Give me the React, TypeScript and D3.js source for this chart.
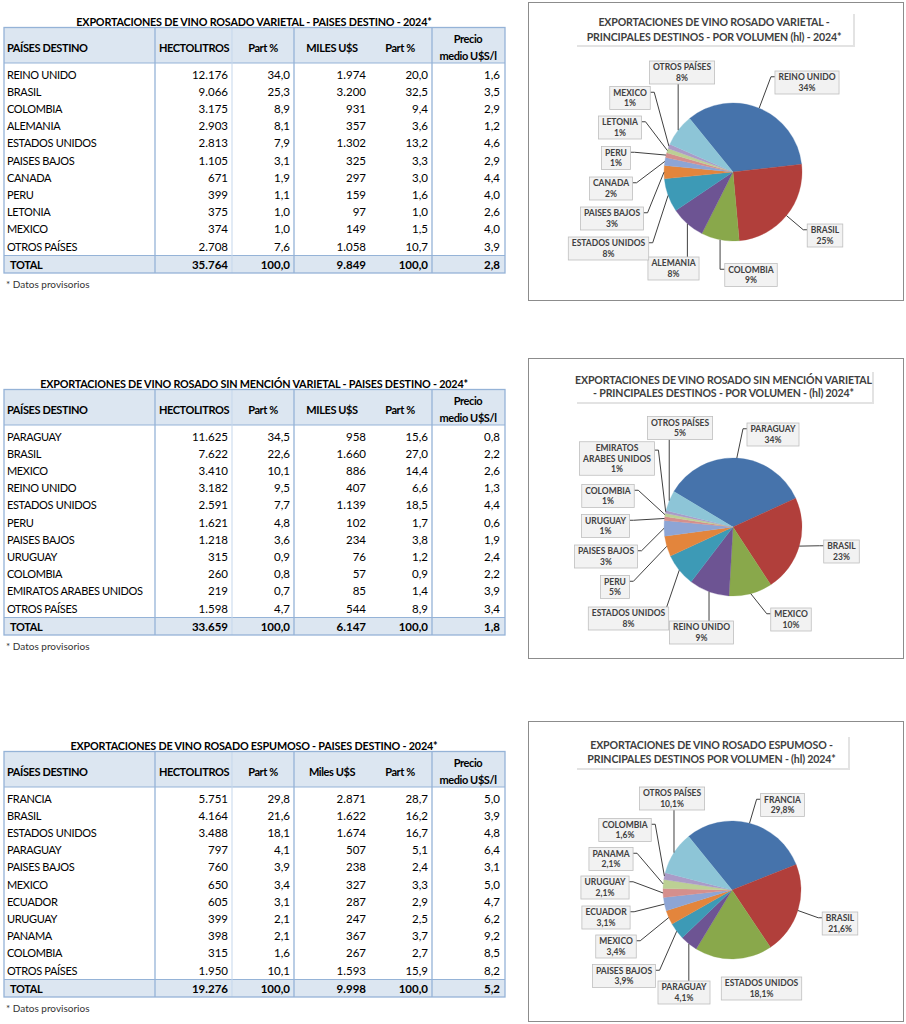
import React from "react";
import * as d3 from "d3";

// ---------- locale ----------
const locale = d3.formatLocale({ decimal: ",", thousands: ".", grouping: [3], currency: ["$", ""] });
const fInt = locale.format(",d");
const f1 = locale.format(",.1f");

// ---------- TABLE 1 ----------
const T1_TITLE = "EXPORTACIONES DE VINO ROSADO VARIETAL - PAISES DESTINO - 2024*";
const T1_HEAD_USD = "MILES U$S";
const T1_COUNTRIES = ["REINO UNIDO", "BRASIL", "COLOMBIA", "ALEMANIA", "ESTADOS UNIDOS", "PAISES BAJOS", "CANADA", "PERU", "LETONIA", "MEXICO", "OTROS PAÍSES"];
const T1_HL = [12176, 9066, 3175, 2903, 2813, 1105, 671, 399, 375, 374, 2708];
const T1_HL_PART = [34.0, 25.3, 8.9, 8.1, 7.9, 3.1, 1.9, 1.1, 1.0, 1.0, 7.6];
const T1_USD = [1974, 3200, 931, 357, 1302, 325, 297, 159, 97, 149, 1058];
const T1_USD_PART = [20.0, 32.5, 9.4, 3.6, 13.2, 3.3, 3.0, 1.6, 1.0, 1.5, 10.7];
const T1_PRICE = [1.6, 3.5, 2.9, 1.2, 4.6, 2.9, 4.4, 4.0, 2.6, 4.0, 3.9];
const T1_TOTAL = [35764, 100.0, 9849, 100.0, 2.8];

// ---------- TABLE 2 ----------
const T2_TITLE = "EXPORTACIONES DE VINO ROSADO SIN MENCIÓN VARIETAL - PAISES DESTINO - 2024*";
const T2_HEAD_USD = "MILES U$S";
const T2_COUNTRIES = ["PARAGUAY", "BRASIL", "MEXICO", "REINO UNIDO", "ESTADOS UNIDOS", "PERU", "PAISES BAJOS", "URUGUAY", "COLOMBIA", "EMIRATOS ARABES UNIDOS", "OTROS PAÍSES"];
const T2_HL = [11625, 7622, 3410, 3182, 2591, 1621, 1218, 315, 260, 219, 1598];
const T2_HL_PART = [34.5, 22.6, 10.1, 9.5, 7.7, 4.8, 3.6, 0.9, 0.8, 0.7, 4.7];
const T2_USD = [958, 1660, 886, 407, 1139, 102, 234, 76, 57, 85, 544];
const T2_USD_PART = [15.6, 27.0, 14.4, 6.6, 18.5, 1.7, 3.8, 1.2, 0.9, 1.4, 8.9];
const T2_PRICE = [0.8, 2.2, 2.6, 1.3, 4.4, 0.6, 1.9, 2.4, 2.2, 3.9, 3.4];
const T2_TOTAL = [33659, 100.0, 6147, 100.0, 1.8];

// ---------- TABLE 3 ----------
const T3_TITLE = "EXPORTACIONES DE VINO ROSADO ESPUMOSO - PAISES DESTINO - 2024*";
const T3_HEAD_USD = "Miles U$S";
const T3_COUNTRIES = ["FRANCIA", "BRASIL", "ESTADOS UNIDOS", "PARAGUAY", "PAISES BAJOS", "MEXICO", "ECUADOR", "URUGUAY", "PANAMA", "COLOMBIA", "OTROS PAÍSES"];
const T3_HL = [5751, 4164, 3488, 797, 760, 650, 605, 399, 398, 315, 1950];
const T3_HL_PART = [29.8, 21.6, 18.1, 4.1, 3.9, 3.4, 3.1, 2.1, 2.1, 1.6, 10.1];
const T3_USD = [2871, 1622, 1674, 507, 238, 327, 287, 247, 367, 267, 1593];
const T3_USD_PART = [28.7, 16.2, 16.7, 5.1, 2.4, 3.3, 2.9, 2.5, 3.7, 2.7, 15.9];
const T3_PRICE = [5.0, 3.9, 4.8, 6.4, 3.1, 5.0, 4.7, 6.2, 9.2, 8.5, 8.2];
const T3_TOTAL = [19276, 100.0, 9998, 100.0, 5.2];

// ---------- PIE LABELS ----------
const P1_TITLE = ["EXPORTACIONES DE VINO ROSADO VARIETAL -", "PRINCIPALES DESTINOS - POR VOLUMEN (hl) - 2024*"];
const P1_PCT = ["34%", "25%", "9%", "8%", "8%", "3%", "2%", "1%", "1%", "1%", "8%"];
const P2_TITLE = ["EXPORTACIONES DE VINO ROSADO SIN MENCIÓN VARIETAL", "- PRINCIPALES DESTINOS - POR VOLUMEN - (hl)  2024*"];
const P2_PCT = ["34%", "23%", "10%", "9%", "8%", "5%", "3%", "1%", "1%", "1%", "5%"];
const P3_TITLE = ["EXPORTACIONES DE VINO ROSADO ESPUMOSO -", "PRINCIPALES DESTINOS POR VOLUMEN - (hl)  2024*"];
const P3_PCT = ["29,8%", "21,6%", "18,1%", "4,1%", "3,9%", "3,4%", "3,1%", "2,1%", "2,1%", "1,6%", "10,1%"];

const FOOT = "* Datos provisorios";

// ---------- styles / layout ----------
const FONT = "Lato, 'Liberation Sans', sans-serif";
const SLICE_COLORS = ["#4673AB", "#B13F3B", "#89A84B", "#6D5493", "#3D9AB6", "#E3853C", "#8DA5D5", "#D58F8D", "#BCD094", "#AB9BC7", "#8DC5D7"];
const BORDER = "#95B3D7";
const HEAD_FILL = "#DCE6F1";

type Side = "l" | "r" | "t" | "b" | "n" | "v";
type LabelPos = [number, number, Side];

const P1_LAYOUT: LabelPos[] = [
  [807, 82.5, "l"], [825, 235.5, "l"], [751, 275, "v"], [673.5, 268.5, "t"], [608.5, 248.5, "r"],
  [612, 218.5, "r"], [611, 188.5, "r"], [616, 158, "r"], [620, 127.5, "r"], [630, 98, "r"], [682, 72.5, "b"],
];
const P2_LAYOUT: LabelPos[] = [
  [773, 434.5, "l"], [841.5, 551.5, "l"], [791, 619.5, "l"], [701.5, 632.5, "t"], [628.5, 618.5, "t"],
  [615, 587, "r"], [606, 556.5, "r"], [605.5, 526, "r"], [608, 496, "r"], [617, 458.5, "r"], [680, 428, "b"],
];
const P3_LAYOUT: LabelPos[] = [
  [782.5, 805, "l"], [840, 923.5, "l"], [761.5, 988.5, "n"], [684, 992.5, "t"], [624, 976, "r"],
  [616, 946.5, "r"], [606, 917.5, "r"], [605, 887.5, "r"], [611, 859, "r"], [625, 830, "r"], [672, 798.5, "b"],
];

let ctx: CanvasRenderingContext2D | null = null;
function textW(s: string, font: string) {
  if (!ctx && typeof document !== "undefined") ctx = document.createElement("canvas").getContext("2d");
  if (!ctx) return s.length * 5;
  ctx.font = font;
  return ctx.measureText(s).width;
}

// column boundaries & text anchors
const COLS = { x0: 4, x1: 505, lines: [155, 232, 294, 432], light: [232] };
const VAL_RIGHT = [228, 290, 366, 428, 500];
const HEAD_CENTER = [194, 263, 332, 400, 468];

function Table(props: {
  oy: number; title: string; headUsd: string; countries: string[]; hl: number[]; hlPart: number[];
  usd: number[]; usdPart: number[]; price: number[]; total: number[];
}) {
  const { oy, title, headUsd, countries, hl, hlPart, usd, usdPart, price, total } = props;
  const top = oy + 27.5, headBot = oy + 63, totTop = oy + 255.5, bot = oy + 273;
  const rowY = d3.scaleLinear().domain([0, 10]).range([oy + 74, oy + 246]);
  const fmts = [fInt, f1, fInt, f1, f1];
  const fsNum = 11.5;
  const fsName = 11;
  const ls = -0.35;
  return (
    <g fontFamily={FONT}>
      <text x={254} y={oy + 21} textAnchor="middle" dominantBaseline="central" fontWeight="bold" fontSize={10.8} letterSpacing={-0.2}>{title}</text>
      <rect x={COLS.x0} y={top} width={COLS.x1 - COLS.x0} height={headBot - top} fill={HEAD_FILL} />
      <rect x={COLS.x0} y={totTop} width={COLS.x1 - COLS.x0} height={bot - totTop} fill={HEAD_FILL} />
      <line x1={COLS.x0} x2={COLS.x1} y1={headBot} y2={headBot} stroke={BORDER} />
      <line x1={COLS.x0} x2={COLS.x1} y1={totTop} y2={totTop} stroke={BORDER} />
      {COLS.lines.map((x) => (
        <line key={x} x1={x} x2={x} y1={top} y2={bot} stroke={COLS.light.includes(x) ? "#C5D7EC" : BORDER} strokeWidth={COLS.light.includes(x) ? 1 : 1.3} />
      ))}
      <rect x={COLS.x0} y={top} width={COLS.x1 - COLS.x0} height={bot - top} fill="none" stroke={BORDER} strokeWidth={1.3} />
      {/* header */}
      <g fontWeight="bold" fontSize={11} letterSpacing={-0.4}>
        <text x={7} y={oy + 47} dominantBaseline="central">PAÍSES DESTINO</text>
        {["HECTOLITROS", "Part %", headUsd, "Part %"].map((h, i) => (
          <text key={i} x={HEAD_CENTER[i]} y={oy + 47} textAnchor="middle" dominantBaseline="central">{h}</text>
        ))}
        <text x={HEAD_CENTER[4]} y={oy + 38.5} textAnchor="middle" dominantBaseline="central">Precio</text>
        <text x={HEAD_CENTER[4]} y={oy + 55} textAnchor="middle" dominantBaseline="central">medio U$S/l</text>
      </g>
      {/* body */}
      {countries.map((c, i) => {
        const vals = [hl[i], hlPart[i], usd[i], usdPart[i], price[i]];
        return (
          <g key={c}>
            <text x={7} y={rowY(i)} dominantBaseline="central" fontSize={fsName} letterSpacing={ls}>{c}</text>
            {vals.map((v, j) => (
              <text key={j} x={VAL_RIGHT[j]} y={rowY(i)} textAnchor="end" dominantBaseline="central" fontSize={fsNum}>{fmts[j](v)}</text>
            ))}
          </g>
        );
      })}
      <g fontWeight="bold">
        <text x={10} y={oy + 264.5} dominantBaseline="central" fontSize={fsName} letterSpacing={ls}>TOTAL</text>
        {total.map((v, j) => (
          <text key={j} x={VAL_RIGHT[j]} y={oy + 264.5} textAnchor="end" dominantBaseline="central" fontSize={fsNum}>{fmts[j](v)}</text>
        ))}
      </g>
      <text x={6} y={oy + 283.5} dominantBaseline="central" fontSize={10} fill="#333">{FOOT}</text>
    </g>
  );
}

const LBL_FS = 8.5;
const LBL_FONT = `bold ${LBL_FS}px Lato`;

function PieChart(props: {
  frame: [number, number, number, number]; titleBox: [number, number, number, number]; titleLines: string[]; titleY: number[];
  cx: number; cy: number; r: number; startDeg: number; values: number[]; names: string[]; pcts: string[]; layout: LabelPos[];
}) {
  const { frame, titleBox, titleLines, titleY, cx, cy, r, startDeg, values, names, pcts, layout } = props;
  const a0 = (startDeg * Math.PI) / 180;
  const arcs = d3.pie<number>().sort(null).value((d) => d).startAngle(a0).endAngle(a0 + 2 * Math.PI)(values);
  const arcGen = d3.arc<d3.PieArcDatum<number>>().innerRadius(0).outerRadius(r);
  const lineH = 10.5;
  return (
    <g fontFamily={FONT}>
      <rect x={frame[0]} y={frame[1]} width={frame[2]} height={frame[3]} fill="#fff" stroke="#8c8c8c" />
      <rect x={titleBox[0] + 2} y={titleBox[1] + 2} width={titleBox[2]} height={titleBox[3]} fill="#e3e3e3" />
      <rect x={titleBox[0]} y={titleBox[1]} width={titleBox[2]} height={titleBox[3]} fill="#fff" />
      {titleLines.map((t, i) => (
        <text key={i} x={titleBox[0] + titleBox[2] / 2} y={titleY[i]} textAnchor="middle" dominantBaseline="central" fontWeight="bold" fontSize={10.6} letterSpacing={-0.15} fill="#404040">{t}</text>
      ))}
      <g transform={`translate(${cx},${cy})`}>
        {arcs.map((a, i) => (
          <path key={i} d={arcGen(a) || ""} fill={SLICE_COLORS[i]} stroke={SLICE_COLORS[i]} strokeWidth={0.3} />
        ))}
      </g>
      {arcs.map((a, i) => {
        const mid = (a.startAngle + a.endAngle) / 2;
        const px = cx + r * Math.sin(mid);
        const py = cy - r * Math.cos(mid);
        const [lx, ly, side] = layout[i];
        const lines = names[i] === "EMIRATOS ARABES UNIDOS" ? ["EMIRATOS", "ARABES UNIDOS", pcts[i]] : [names[i], pcts[i]];
        const w = Math.max(...lines.map((s) => textW(s, LBL_FONT))) + 7;
        const h = lines.length * lineH + 2;
        const bx0 = lx - w / 2, by0 = ly - h / 2;
        let pts: [number, number][] = [];
        if (side === "l") pts = [[bx0, ly - h / 4], [bx0 - 4, ly - h / 4], [px, py]];
        else if (side === "v") pts = [[bx0, ly - h / 4], [px, ly - h / 4], [px, py]];
        else if (side === "r") pts = [[bx0 + w, ly - h / 4], [bx0 + w + 4, ly - h / 4], [px, py]];
        else if (side === "t") pts = [[Math.max(bx0 + 2, Math.min(bx0 + w - 2, px)), by0], [px, py]];
        else if (side === "b") pts = [[Math.max(bx0 + 2, Math.min(bx0 + w - 2, px)), by0 + h], [px, py]];
        return (
          <g key={"l" + i}>
            {pts.length > 0 && <polyline points={pts.map((p) => p.join(",")).join(" ")} fill="none" stroke="#404040" strokeWidth={1} />}
            <rect x={bx0} y={by0} width={w} height={h} fill="#F2F2F2" stroke="#BFBFBF" strokeWidth={0.8} />
            {lines.map((s, k) => (
              <text key={k} x={lx} y={by0 + 1 + lineH * (k + 0.5)} textAnchor="middle" dominantBaseline="central" fontWeight="bold" fontSize={LBL_FS} fill="#404040">{s}</text>
            ))}
          </g>
        );
      })}
    </g>
  );
}

export default function App() {
  return (
    <svg width={906} height={1024} style={{ position: "absolute", left: 0, top: 0, background: "#fff" }}>
      <rect width={906} height={1024} fill="#fff" />
      <Table oy={0} title={T1_TITLE} headUsd={T1_HEAD_USD} countries={T1_COUNTRIES} hl={T1_HL} hlPart={T1_HL_PART} usd={T1_USD} usdPart={T1_USD_PART} price={T1_PRICE} total={T1_TOTAL} />
      <Table oy={362} title={T2_TITLE} headUsd={T2_HEAD_USD} countries={T2_COUNTRIES} hl={T2_HL} hlPart={T2_HL_PART} usd={T2_USD} usdPart={T2_USD_PART} price={T2_PRICE} total={T2_TOTAL} />
      <Table oy={724} title={T3_TITLE} headUsd={T3_HEAD_USD} countries={T3_COUNTRIES} hl={T3_HL} hlPart={T3_HL_PART} usd={T3_USD} usdPart={T3_USD_PART} price={T3_PRICE} total={T3_TOTAL} />
      <PieChart frame={[528.5, 2.5, 375, 298]} titleBox={[575, 12, 278, 33]} titleLines={P1_TITLE} titleY={[21.5, 37]}
        cx={733} cy={172} r={69} startDeg={-39} values={T1_HL} names={T1_COUNTRIES} pcts={P1_PCT} layout={P1_LAYOUT} />
      <PieChart frame={[528.5, 358.5, 375, 300]} titleBox={[575, 370, 297, 32]} titleLines={P2_TITLE} titleY={[379.5, 392.5]}
        cx={733} cy={527} r={69} startDeg={-59} values={T2_HL} names={T2_COUNTRIES} pcts={P2_PCT} layout={P2_LAYOUT} />
      <PieChart frame={[528.5, 721.5, 375, 300]} titleBox={[575, 735, 273, 33]} titleLines={P3_TITLE} titleY={[745, 758.5]}
        cx={732} cy={890} r={69} startDeg={-39} values={T3_HL} names={T3_COUNTRIES} pcts={P3_PCT} layout={P3_LAYOUT} />
    </svg>
  );
}
